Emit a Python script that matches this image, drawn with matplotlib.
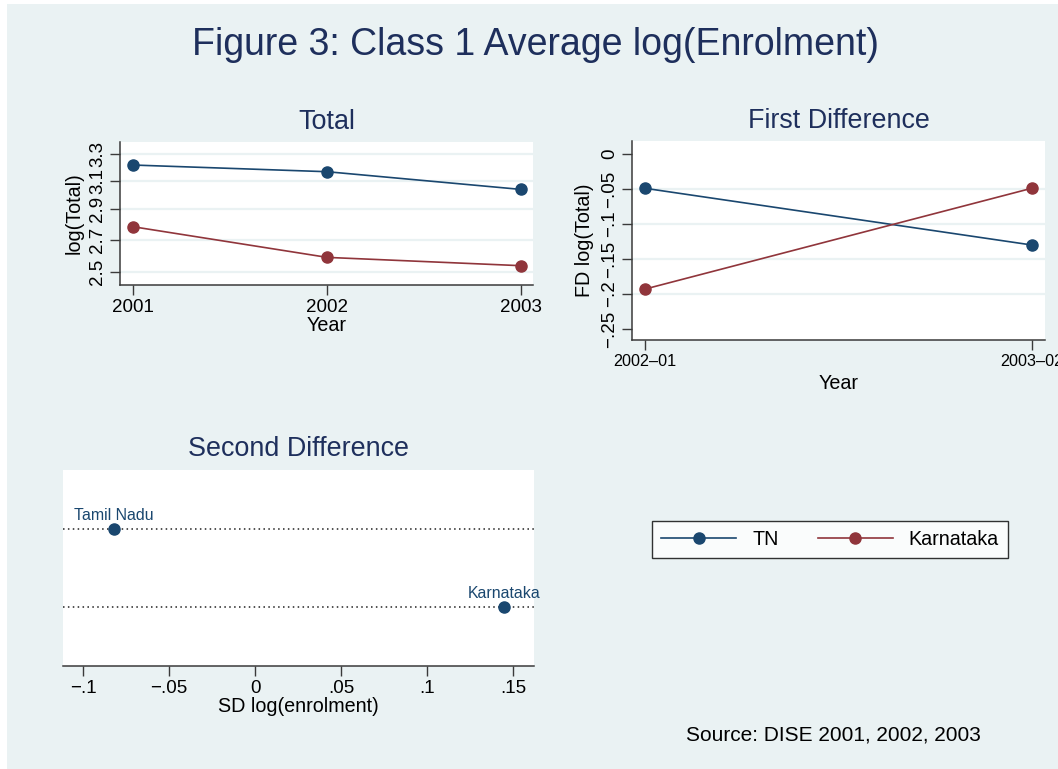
import matplotlib
matplotlib.use('Agg')
import matplotlib.pyplot as plt
from matplotlib.patches import Rectangle
from matplotlib.lines import Line2D
from matplotlib.ticker import NullLocator

plt.rcParams['font.family'] = ['Liberation Sans', 'DejaVu Sans']

# data
years = [2001, 2002, 2003]
tn_total = [3.216, 3.166, 3.037]
ka_total = [2.782, 2.589, 2.539]
total_ticks = [2.5, 2.7, 2.9, 3.1, 3.3]

fd_periods = ['2002\u201301', '2003\u201302']
tn_fd = [-0.049, -0.130]
ka_fd = [-0.193, -0.049]
fd_ticks = [0, -0.05, -0.1, -0.15, -0.2, -0.25]
fd_ticklabels = ['0', '\u2212.05', '\u2212.1', '\u2212.15', '\u2212.2', '\u2212.25']

sd_states = ['Tamil Nadu', 'Karnataka']
sd_values = [-0.082, 0.145]
sd_ticks = [-0.1, -0.05, 0, 0.05, 0.1, 0.15]
sd_ticklabels = ['\u2212.1', '\u2212.05', '0', '.05', '.1', '.15']

BG = '#EAF2F3'
NAVY = '#1A476F'
MAROON = '#90353B'
TITLE = '#1E2F5C'
SPINE = '#3A3A3A'

fig = plt.figure(figsize=(10.58, 7.69), dpi=100)
fig.patch.set_facecolor('white')
fig.patches.append(Rectangle((7 / 1058, 0), 1, 1 - 4 / 769, transform=fig.transFigure,
                             facecolor=BG, edgecolor='none', zorder=-10))


def style_axes(ax, left=True):
    ax.set_facecolor('white')
    ax.spines['top'].set_visible(False)
    ax.spines['right'].set_visible(False)
    ax.spines['left'].set_visible(left)
    for s in ('left', 'bottom'):
        ax.spines[s].set_color(SPINE)
        ax.spines[s].set_linewidth(1.1)
    ax.tick_params(direction='out', length=7, width=1, color=SPINE, labelsize=13.5, pad=3)


line_kw = dict(marker='o', markersize=8, linewidth=1.2)

# --- Total panel (log scale) ---
ax1 = fig.add_axes([0.1134, 0.6294, 0.3904, 0.1863])
style_axes(ax1)
ax1.set_yscale('log')
for t in total_ticks:
    ax1.axhline(t, color=BG, lw=1.6, zorder=0)
ax1.plot(years, tn_total, color=NAVY, **line_kw)
ax1.plot(years, ka_total, color=MAROON, **line_kw)
ax1.set_xlim(2000.931, 2003.062)
ax1.set_ylim(2.4265, 3.397)
ax1.set_xticks(years)
ax1.set_xticklabels([str(y) for y in years])
ax1.yaxis.set_minor_locator(NullLocator())
ax1.set_yticks(total_ticks)
ax1.set_yticklabels([str(t) for t in total_ticks], rotation=90, va='center')
ax1.set_xlabel('Year', fontsize=14.2, labelpad=0)
ax1.set_ylabel('log(Total)', fontsize=14.2)
ax1.yaxis.set_label_coords(-0.087, 0.5)
ax1.set_title('Total', fontsize=19.4, color=TITLE, pad=9)

# --- First difference panel ---
ax2 = fig.add_axes([0.5976, 0.5579, 0.3901, 0.2588])
style_axes(ax2)
xs = range(len(fd_periods))
for t in fd_ticks[1:-1]:
    ax2.axhline(t, color=BG, lw=1.6, zorder=0)
ax2.plot(xs, tn_fd, color=NAVY, **line_kw)
ax2.plot(xs, ka_fd, color=MAROON, **line_kw)
ax2.set_xlim(-0.0328, 1.0344)
ax2.set_ylim(-0.2657, 0.0186)
ax2.set_xticks(list(xs))
ax2.set_xticklabels(fd_periods, fontsize=11.6)
ax2.set_yticks(fd_ticks)
ax2.set_yticklabels(fd_ticklabels, rotation=90, va='center')
ax2.set_xlabel('Year', fontsize=14.2, labelpad=4)
ax2.set_ylabel('FD log(Total)', fontsize=14.2)
ax2.yaxis.set_label_coords(-0.093, 0.5)
ax2.set_title('First Difference', fontsize=19.4, color=TITLE, pad=9)

# --- Second difference panel (dot plot) ---
ax3 = fig.add_axes([0.0593, 0.1343, 0.4455, 0.2545])
style_axes(ax3, left=False)
rows = list(range(len(sd_states)))
for r in rows:
    ax3.axhline(r, color='#222222', lw=1.1, linestyle=(0, (1, 2.2)), zorder=1)
ax3.plot(sd_values, rows, linestyle='none', marker='o', markersize=8, color=NAVY, zorder=3)
for name, v, r in zip(sd_states, sd_values, rows):
    ax3.annotate(name, (v, r), xytext=(0, 6.5), textcoords='offset points',
                 ha='center', va='baseline', fontsize=11.4, color=NAVY,
                 annotation_clip=False)
ax3.set_ylim(1.76, -0.76)
ax3.set_yticks([])
ax3.set_xlim(-0.1118, 0.1622)
ax3.set_xticks(sd_ticks)
ax3.set_xticklabels(sd_ticklabels)
ax3.set_xlabel('SD log(enrolment)', fontsize=14.2, labelpad=0)
ax3.set_title('Second Difference', fontsize=19.4, color=TITLE, pad=10)

# --- legend ---
handles = [Line2D([], [], color=NAVY, **line_kw), Line2D([], [], color=MAROON, **line_kw)]
leg = fig.legend(handles, ['TN', 'Karnataka'], loc='center', bbox_to_anchor=(0.7845, 0.2985),
                 ncol=2, fontsize=14.2, frameon=True, fancybox=False, handlelength=3.8,
                 handletextpad=0.8, columnspacing=2.0, borderpad=0.45)
leg.get_frame().set_edgecolor('black')
leg.get_frame().set_linewidth(1.0)
leg.get_frame().set_facecolor('white')

fig.text(0.5066, 1 - 45 / 769, 'Figure 3: Class 1 Average log(Enrolment)',
         ha='center', va='center', fontsize=27, color=TITLE)
fig.text(0.7877, 1 - 735 / 769, 'Source: DISE 2001, 2002, 2003',
         ha='center', va='center', fontsize=15)

fig.savefig('out.png', dpi=100)
